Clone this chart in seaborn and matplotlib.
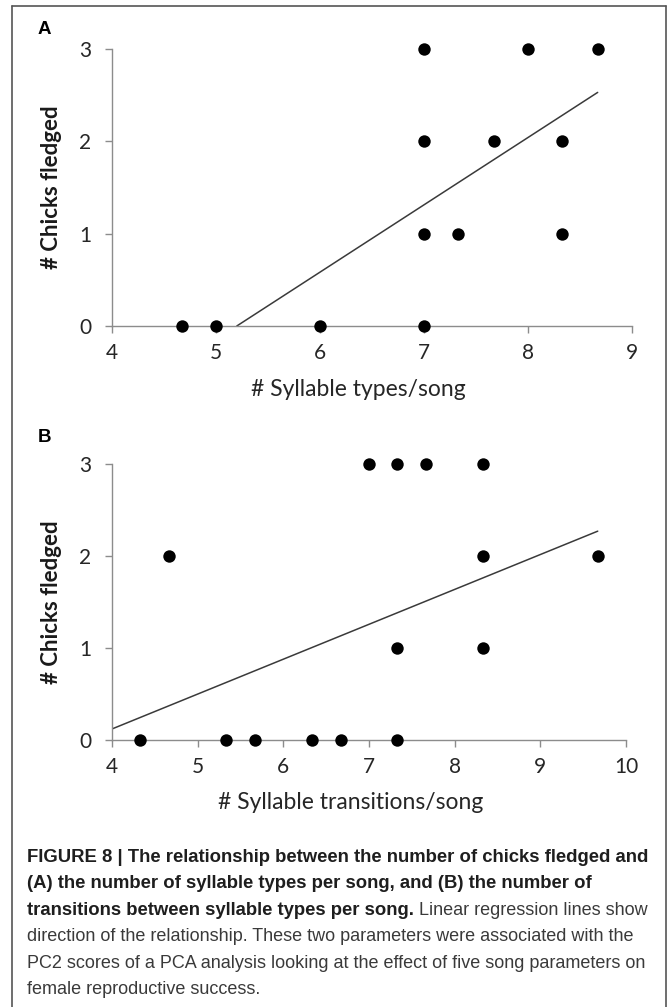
import numpy as np
import pandas as pd
import seaborn as sns
import matplotlib.pyplot as plt
from matplotlib.lines import Line2D

# panel A: syllable types per song vs chicks fledged
a_types = [4.67, 5.0, 6.0, 7.0, 7.0, 7.33, 8.33, 7.0, 7.67, 8.33, 7.0, 8.0, 8.67]
a_chicks = [0, 0, 0, 0, 1, 1, 1, 2, 2, 2, 3, 3, 3]
# trend line (clipped at 0 on the left)
a_trend_x = [5.2, 8.67]
a_trend_y = [0.0, 2.53]

# panel B: syllable transitions per song vs chicks fledged
b_trans = [4.33, 5.33, 5.67, 6.33, 6.67, 7.33, 7.33, 8.33, 4.67, 8.33, 9.67, 7.0, 7.33, 7.67, 8.33]
b_chicks = [0, 0, 0, 0, 0, 0, 1, 1, 2, 2, 2, 3, 3, 3, 3]
b_trend_x = [4.0, 9.67]
b_trend_y = [0.12, 2.27]

a_xticks = [4, 5, 6, 7, 8, 9]
b_xticks = [4, 5, 6, 7, 8, 9, 10]
y_ticks = [0, 1, 2, 3]

caption = [
    [("FIGURE 8 | The relationship between the number of chicks fledged and", "bold")],
    [("(A) the number of syllable types per song, and (B) the number of", "bold")],
    [("transitions between syllable types per song.", "bold"),
     (" Linear regression lines show", "normal")],
    [("direction of the relationship. These two parameters were associated with the", "normal")],
    [("PC2 scores of a PCA analysis looking at the effect of five song parameters on", "normal")],
    [("female reproductive success.", "normal")],
]

sns.set_theme(style="ticks")
plt.rcParams['font.family'] = ['Lato', 'DejaVu Sans']

W, H = 670, 1007
fig = plt.figure(figsize=(W / 100, H / 100), dpi=100)
fig.patch.set_facecolor("white")


def px_axes(l, t, r, b):
    return fig.add_axes([l / W, 1 - b / H, (r - l) / W, (b - t) / H])


ax_a = px_axes(112, 49, 632, 326)
ax_b = px_axes(112, 464, 626, 740)

grey = "#8c8c8c"
panels = [
    (ax_a, a_types, a_chicks, a_trend_x, a_trend_y, a_xticks, "# Syllable types/song", 0.473, "A", 30),
    (ax_b, b_trans, b_chicks, b_trend_x, b_trend_y, b_xticks, "# Syllable transitions/song", 0.465, "B", 438),
]

for ax, xs, ys, tx, ty, xticks, xlabel, xlab_pos, letter, letter_y in panels:
    df = pd.DataFrame({"x": xs, "y": ys})
    sns.lineplot(x=tx, y=ty, ax=ax, color="#3a3a3a", linewidth=1.1, zorder=2)
    sns.scatterplot(data=df, x="x", y="y", ax=ax, color="black", s=80,
                    linewidth=0, clip_on=False, zorder=3)
    ax.set_xlim(xticks[0], xticks[-1])
    ax.set_ylim(0, 3)
    ax.set_xticks(xticks)
    ax.set_yticks(y_ticks)
    sns.despine(ax=ax)
    for side in ["left", "bottom"]:
        ax.spines[side].set_color(grey)
        ax.spines[side].set_linewidth(1.0)
    ax.tick_params(color=grey, length=5, width=1.0, labelsize=15,
                   labelcolor="#262626")
    ax.tick_params(axis="x", pad=7)
    ax.tick_params(axis="y", pad=10)
    ax.set_xlabel(xlabel, fontsize=16.5, color="#262626")
    ax.set_ylabel("# Chicks fledged", fontsize=16, color="#1a1a1a", fontweight="bold")
    ax.xaxis.set_label_coords(xlab_pos, -0.19)
    ax.yaxis.set_label_coords(-0.097, 0.5)
    fig.text(38 / W, 1 - letter_y / H, letter, family="Liberation Sans",
             fontweight="bold", fontsize=13.5, ha="left", va="center", color="black")

# outer frame
frame_col = "#555555"
fig.add_artist(Line2D([12 / W, 12 / W], [0, 1 - 6 / H], color=frame_col, lw=1.2))
fig.add_artist(Line2D([666 / W, 666 / W], [0, 1 - 6 / H], color=frame_col, lw=1.2))
fig.add_artist(Line2D([12 / W, 666 / W], [1 - 6 / H, 1 - 6 / H], color=frame_col, lw=1.2))

# caption
fig.canvas.draw()
renderer = fig.canvas.get_renderer()
sizes = {"bold": 13.3, "normal": 13.0}
base0 = 862
step = 26.4
for i, parts in enumerate(caption):
    x = 27 / W
    y = 1 - (base0 + i * step) / H
    for txt, wt in parts:
        col = "#1e1e1e" if wt == "bold" else "#3a3a3a"
        t = fig.text(x, y, txt, family="Liberation Sans", fontweight=wt,
                     fontsize=sizes[wt], ha="left", va="baseline", color=col)
        bb = t.get_window_extent(renderer=renderer)
        x = bb.x1 / W

fig.savefig("out.png", dpi=100)
